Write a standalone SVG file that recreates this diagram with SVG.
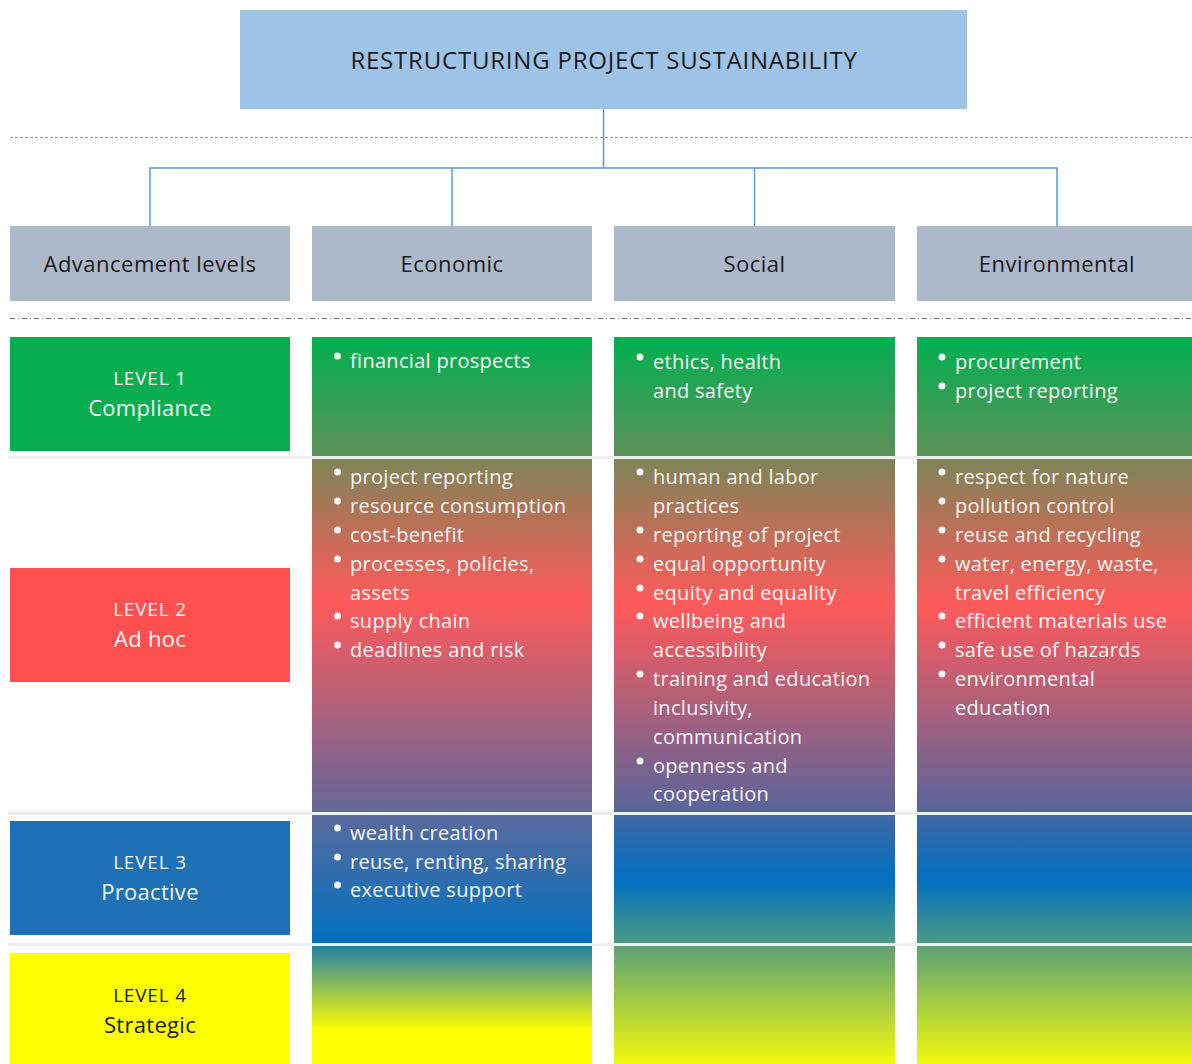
<svg xmlns="http://www.w3.org/2000/svg" width="1192" height="1064" viewBox="0 0 1192 1064">
<style>
.t{font-family:"Open Sans","Noto Sans","Liberation Sans",sans-serif;}
.title{font-size:24px;letter-spacing:0.8px;fill:#1a1a1a;text-anchor:middle;}
.hdr{font-size:22px;letter-spacing:0.5px;fill:#1a1a1a;text-anchor:middle;}
.lv{font-size:19px;letter-spacing:0.8px;fill:#f4f4f4;text-anchor:middle;}
.lvn{font-size:22px;letter-spacing:0.3px;fill:#f4f4f4;text-anchor:middle;}
.dark{fill:#1a1a1a;}
.it{font-size:20px;letter-spacing:0.3px;fill:#f6f6f6;}
.b{fill:#f6f6f6;}
.conn{stroke:#5B9BD5;stroke-width:1.5;fill:none;}
.sep{stroke:#eeeeee;stroke-width:3;}
</style>
<defs>
<linearGradient id="gEco" gradientUnits="userSpaceOnUse" x1="0" y1="337" x2="0" y2="1064">
<stop offset="0" stop-color="#00B050"/>
<stop offset="0.1637" stop-color="#5E9158"/>
<stop offset="0.1678" stop-color="#7E8456"/>
<stop offset="0.3618" stop-color="#FF5A5A"/>
<stop offset="0.6534" stop-color="#64679A"/>
<stop offset="0.6575" stop-color="#5A6A9E"/>
<stop offset="0.8336" stop-color="#0070C0"/>
<stop offset="0.8377" stop-color="#2280A6"/>
<stop offset="0.9532" stop-color="#FFFF00"/>
<stop offset="1" stop-color="#FFFF00"/>
</linearGradient>
<linearGradient id="gSoc" gradientUnits="userSpaceOnUse" x1="0" y1="337" x2="0" y2="1064">
<stop offset="0" stop-color="#00B050"/>
<stop offset="0.1637" stop-color="#5E9158"/>
<stop offset="0.1678" stop-color="#7E8456"/>
<stop offset="0.3686" stop-color="#FF5A5A"/>
<stop offset="0.6534" stop-color="#58659C"/>
<stop offset="0.6575" stop-color="#4068A6"/>
<stop offset="0.7469" stop-color="#0070C0"/>
<stop offset="0.8336" stop-color="#4C9A84"/>
<stop offset="0.8377" stop-color="#5CA276"/>
<stop offset="1" stop-color="#F2F90C"/>
</linearGradient>
</defs>
<rect width="1192" height="1064" fill="#ffffff"/>

<g id="title">
<rect x="240" y="10" width="727" height="99" fill="#9DC3E6"/>
<text class="t title" x="604" y="69">RESTRUCTURING PROJECT SUSTAINABILITY</text>
</g>

<g id="guides">
<line x1="10" y1="137.5" x2="1192" y2="137.5" stroke="#8f9bb3" stroke-width="1" stroke-dasharray="3,2"/>
<line x1="10" y1="318.5" x2="1192" y2="318.5" stroke="#6f7a90" stroke-width="1" stroke-dasharray="5,3,1,3"/>
</g>

<g id="connectors">
<path class="conn" d="M603.5,109 V168 M150,226 V168 H1057 V226 M452,168 V226 M754.5,168 V226"/>
</g>

<g id="hdr-levels"><rect x="10" y="226" width="280" height="75" fill="#ADB9CA"/><text class="t hdr" x="150" y="272">Advancement levels</text></g>
<g id="hdr-economic"><rect x="312" y="226" width="280" height="75" fill="#ADB9CA"/><text class="t hdr" x="452" y="272">Economic</text></g>
<g id="hdr-social"><rect x="614" y="226" width="281" height="75" fill="#ADB9CA"/><text class="t hdr" x="754.5" y="272">Social</text></g>
<g id="hdr-environmental"><rect x="917" y="226" width="275" height="75" fill="#ADB9CA"/><text class="t hdr" x="1057" y="272">Environmental</text></g>

<g id="level1"><rect x="10" y="337" width="280" height="114" fill="#08AD50"/><text class="t lv" x="150" y="385">LEVEL 1</text><text class="t lvn" x="150" y="416">Compliance</text></g>
<g id="level2"><rect x="10" y="568" width="280" height="114" fill="#FF5050"/><text class="t lv" x="150" y="616">LEVEL 2</text><text class="t lvn" x="150" y="647">Ad hoc</text></g>
<g id="level3"><rect x="10" y="821" width="280" height="114" fill="#1E70B7"/><text class="t lv" x="150" y="869">LEVEL 3</text><text class="t lvn" x="150" y="900">Proactive</text></g>
<g id="level4"><rect x="10" y="953" width="280" height="111" fill="#FFFF00"/><text class="t lv dark" x="150" y="1002">LEVEL 4</text><text class="t lvn dark" x="150" y="1033">Strategic</text></g>

<g id="col-economic">
<rect x="312" y="337" width="280" height="727" fill="url(#gEco)"/>
<g class="t it">
<text x="350" y="368">financial prospects</text>
<text x="350" y="484">project reporting</text>
<text x="350" y="513">resource consumption</text>
<text x="350" y="542">cost-benefit</text>
<text x="350" y="571">processes, policies,</text>
<text x="350" y="600">assets</text>
<text x="350" y="628">supply chain</text>
<text x="350" y="657">deadlines and risk</text>
<text x="350" y="840">wealth creation</text>
<text x="350" y="869">reuse, renting, sharing</text>
<text x="350" y="897">executive support</text>
</g>
<g class="b">
<circle cx="337.5" cy="356" r="3.5"/>
<circle cx="337.5" cy="472" r="3.5"/>
<circle cx="337.5" cy="501" r="3.5"/>
<circle cx="337.5" cy="530" r="3.5"/>
<circle cx="337.5" cy="559" r="3.5"/>
<circle cx="337.5" cy="616" r="3.5"/>
<circle cx="337.5" cy="645" r="3.5"/>
<circle cx="337.5" cy="828" r="3.5"/>
<circle cx="337.5" cy="857" r="3.5"/>
<circle cx="337.5" cy="885" r="3.5"/>
</g>
</g>

<g id="col-social">
<rect x="614" y="337" width="281" height="727" fill="url(#gSoc)"/>
<g class="t it">
<text x="653" y="369">ethics, health</text>
<text x="653" y="398">and safety</text>
<text x="653" y="484">human and labor</text>
<text x="653" y="513">practices</text>
<text x="653" y="542">reporting of project</text>
<text x="653" y="571">equal opportunity</text>
<text x="653" y="600">equity and equality</text>
<text x="653" y="628">wellbeing and</text>
<text x="653" y="657">accessibility</text>
<text x="653" y="686">training and education</text>
<text x="653" y="715">inclusivity,</text>
<text x="653" y="744">communication</text>
<text x="653" y="773">openness and</text>
<text x="653" y="801">cooperation</text>
</g>
<g class="b">
<circle cx="640" cy="357" r="3.5"/>
<circle cx="640" cy="472" r="3.5"/>
<circle cx="640" cy="530" r="3.5"/>
<circle cx="640" cy="559" r="3.5"/>
<circle cx="640" cy="588" r="3.5"/>
<circle cx="640" cy="616" r="3.5"/>
<circle cx="640" cy="674" r="3.5"/>
<circle cx="640" cy="761" r="3.5"/>
</g>
</g>

<g id="col-environmental">
<rect x="917" y="337" width="275" height="727" fill="url(#gSoc)"/>
<g class="t it">
<text x="955" y="369">procurement</text>
<text x="955" y="398">project reporting</text>
<text x="955" y="484">respect for nature</text>
<text x="955" y="513">pollution control</text>
<text x="955" y="542">reuse and recycling</text>
<text x="955" y="571">water, energy, waste,</text>
<text x="955" y="600">travel efficiency</text>
<text x="955" y="628">efficient materials use</text>
<text x="955" y="657">safe use of hazards</text>
<text x="955" y="686">environmental</text>
<text x="955" y="715">education</text>
</g>
<g class="b">
<circle cx="942" cy="357" r="3.5"/>
<circle cx="942" cy="386" r="3.5"/>
<circle cx="942" cy="472" r="3.5"/>
<circle cx="942" cy="501" r="3.5"/>
<circle cx="942" cy="530" r="3.5"/>
<circle cx="942" cy="559" r="3.5"/>
<circle cx="942" cy="616" r="3.5"/>
<circle cx="942" cy="645" r="3.5"/>
<circle cx="942" cy="674" r="3.5"/>
</g>
</g>

<g id="separators">
<line class="sep" x1="8" y1="457.5" x2="1192" y2="457.5"/>
<line class="sep" x1="8" y1="813.5" x2="1192" y2="813.5"/>
<line class="sep" x1="8" y1="944.5" x2="1192" y2="944.5"/>
</g>
</svg>
